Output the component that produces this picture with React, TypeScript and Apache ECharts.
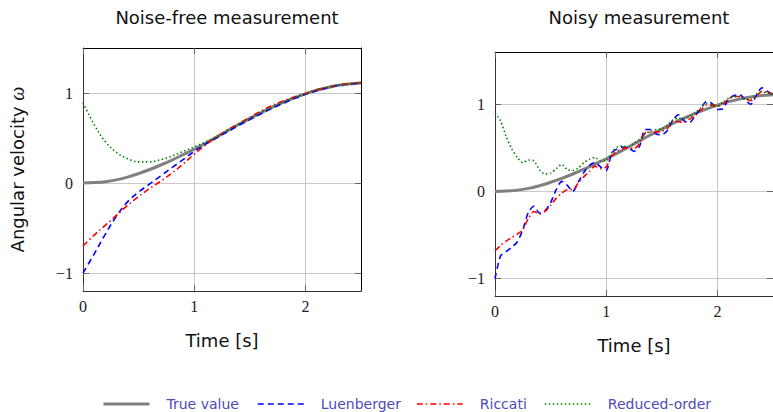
import React, { useEffect, useRef } from "react";
import * as echarts from "echarts";

// ---- data ----
const T_CLEAN = [0, 0.1, 0.2, 0.3, 0.4, 0.5, 0.6, 0.7, 0.8, 0.9, 1.0, 1.1, 1.2, 1.3, 1.4, 1.5, 1.6, 1.7, 1.8, 1.9, 2.0, 2.1, 2.2, 2.3, 2.4, 2.5];
const TRUE_VALUE = [0, 0.005, 0.015, 0.035, 0.065, 0.105, 0.15, 0.2, 0.255, 0.315, 0.375, 0.44, 0.51, 0.58, 0.65, 0.715, 0.78, 0.84, 0.895, 0.945, 0.99, 1.03, 1.06, 1.085, 1.1, 1.11];
const LUEN_CLEAN = [-1, -0.79, -0.57, -0.37, -0.21, -0.1, -0.01, 0.08, 0.17, 0.26, 0.35, 0.43, 0.5, 0.57, 0.64, 0.705, 0.77, 0.83, 0.885, 0.94, 0.985, 1.025, 1.06, 1.085, 1.1, 1.11];
const RICC_CLEAN = [-0.7, -0.58, -0.47, -0.36, -0.25, -0.15, -0.06, 0.02, 0.11, 0.21, 0.32, 0.42, 0.51, 0.59, 0.66, 0.73, 0.8, 0.86, 0.91, 0.955, 0.995, 1.035, 1.065, 1.09, 1.105, 1.115];
const RED_CLEAN = [0.89, 0.65, 0.46, 0.34, 0.27, 0.235, 0.235, 0.26, 0.3, 0.35, 0.4, 0.455, 0.515, 0.585, 0.655, 0.72, 0.785, 0.845, 0.9, 0.95, 0.995, 1.035, 1.065, 1.09, 1.105, 1.115];

const T_NOISY = [0, 0.05, 0.1, 0.15, 0.2, 0.25, 0.3, 0.35, 0.4, 0.45, 0.5, 0.55, 0.6, 0.65, 0.7, 0.75, 0.8, 0.85, 0.9, 0.95, 1.0, 1.05, 1.1, 1.15, 1.2, 1.25, 1.3, 1.35, 1.4, 1.45, 1.5, 1.55, 1.6, 1.65, 1.7, 1.75, 1.8, 1.85, 1.9, 1.95, 2.0, 2.05, 2.1, 2.15, 2.2, 2.25, 2.3, 2.35, 2.4, 2.45, 2.5];
const LUEN_NOISY = [-1.0, -0.74, -0.69, -0.64, -0.58, -0.44, -0.24, -0.17, -0.25, -0.22, -0.13, 0.02, 0.115, 0.07, 0.0, 0.11, 0.22, 0.3, 0.33, 0.28, 0.24, 0.44, 0.49, 0.51, 0.5, 0.46, 0.52, 0.71, 0.71, 0.66, 0.65, 0.7, 0.82, 0.88, 0.81, 0.79, 0.87, 0.95, 1.03, 1.01, 0.94, 0.95, 1.06, 1.1, 1.11, 1.05, 1.0, 1.1, 1.19, 1.15, 1.1];
const RICC_NOISY = [-0.68, -0.62, -0.57, -0.53, -0.49, -0.44, -0.31, -0.23, -0.26, -0.23, -0.16, -0.08, -0.02, 0.02, 0.02, 0.1, 0.17, 0.23, 0.29, 0.26, 0.28, 0.41, 0.46, 0.49, 0.5, 0.49, 0.55, 0.67, 0.68, 0.68, 0.69, 0.72, 0.81, 0.8, 0.79, 0.83, 0.87, 0.93, 0.99, 0.99, 0.98, 1.0, 1.06, 1.09, 1.09, 1.07, 1.04, 1.09, 1.15, 1.14, 1.12];
const RED_NOISY = [0.9, 0.81, 0.63, 0.49, 0.39, 0.33, 0.36, 0.35, 0.25, 0.2, 0.21, 0.26, 0.31, 0.25, 0.24, 0.27, 0.33, 0.37, 0.39, 0.35, 0.35, 0.45, 0.51, 0.52, 0.51, 0.55, 0.6, 0.66, 0.69, 0.71, 0.72, 0.76, 0.82, 0.84, 0.83, 0.86, 0.9, 0.96, 1.01, 1.0, 0.98, 1.02, 1.07, 1.09, 1.09, 1.06, 1.06, 1.12, 1.14, 1.13, 1.12];

const X_TICKS = [0, 1, 2];
const Y_TICKS = [-1, 0, 1];
const NAMES = ["True value", "Luenberger", "Riccati", "Reduced-order"];

const SANS = "DejaVu Sans";
const SERIF = "Liberation Serif";

const pairs = (t: number[], v: number[]) => t.map((x, i) => [x, v[i]]);
const fmt = (v: number) => (v < 0 ? "\u2212" + Math.abs(v) : String(v));

export default function App() {
  const ref = useRef<HTMLDivElement>(null);
  useEffect(() => {
    document.body.style.margin = "0";
    if (!ref.current) return;
    const chart = echarts.init(ref.current, undefined, { renderer: "svg" });

    const grids = [
      { left: 83, top: 48, width: 278, height: 243 },
      { left: 495, top: 52, width: 279, height: 244 },
    ];
    const yMax = [1.5, 1.6];

    const xAxes: any[] = [];
    const yAxes: any[] = [];
    [0, 1].forEach((g) => {
      xAxes.push({
        type: "value", gridIndex: g, min: 0, max: 2.5, position: "bottom",
        axisLine: { show: true, onZero: false, lineStyle: { color: "#333", width: 1 } },
        axisTick: { show: true, inside: true, length: 6, customValues: X_TICKS, lineStyle: { color: "#666" } },
        axisLabel: { customValues: X_TICKS, formatter: fmt, fontFamily: SERIF, fontSize: 16, color: "#222", margin: 7 },
        splitLine: { show: true, lineStyle: { color: "#c8c8c8", width: 1 } },
        name: "Time [s]", nameLocation: "middle", nameGap: 40,
        nameTextStyle: { fontFamily: SANS, fontSize: 18, color: "#111" },
      });
      xAxes.push({
        type: "value", gridIndex: g, min: 0, max: 2.5, position: "top",
        axisLine: { show: true, onZero: false, lineStyle: { color: "#000", width: 1 } },
        axisTick: { show: true, inside: true, length: 6, customValues: X_TICKS, lineStyle: { color: "#666" } },
        axisLabel: { show: false }, splitLine: { show: false },
      });
      yAxes.push({
        type: "value", gridIndex: g, min: -1.2, max: yMax[g], position: "left",
        axisLine: { show: true, onZero: false, lineStyle: { color: "#333", width: 1 } },
        axisTick: { show: true, inside: true, length: 6, customValues: Y_TICKS, lineStyle: { color: "#666" } },
        axisLabel: { customValues: Y_TICKS, formatter: fmt, fontFamily: SERIF, fontSize: 16, color: "#222", margin: 10 },
        splitLine: { show: true, lineStyle: { color: "#c8c8c8", width: 1 } },
        ...(g === 0
          ? {
              name: "Angular velocity {i|ω}", nameLocation: "middle", nameGap: 56,
              nameTextStyle: { fontFamily: SANS, fontSize: 18, color: "#111", rich: { i: { fontFamily: SERIF, fontStyle: "italic", fontSize: 20, color: "#111" } } },
            }
          : {}),
      });
      yAxes.push({
        type: "value", gridIndex: g, min: -1.2, max: yMax[g], position: "right",
        axisLine: { show: true, onZero: false, lineStyle: { color: "#000", width: 1 } },
        axisTick: { show: true, inside: true, length: 6, customValues: Y_TICKS, lineStyle: { color: "#666" } },
        axisLabel: { show: false }, splitLine: { show: false },
      });
    });

    const styles = [
      { color: "#808080", width: 3, type: "solid" },
      { color: "#0000ff", width: 1.6, type: [6, 4] },
      { color: "#ff0000", width: 1.6, type: [6, 3, 1.5, 3] },
      { color: "#008000", width: 1.6, type: [1.5, 2.5] },
    ];
    const clean = [TRUE_VALUE, LUEN_CLEAN, RICC_CLEAN, RED_CLEAN];
    const noisy = [TRUE_VALUE, LUEN_NOISY, RICC_NOISY, RED_NOISY];
    const series: any[] = [];
    clean.forEach((v, i) => {
      series.push({
        type: "line", name: NAMES[i], xAxisIndex: 0, yAxisIndex: 0,
        data: pairs(T_CLEAN, v), showSymbol: false, symbol: "none",
        smooth: 0.35,
        lineStyle: styles[i], itemStyle: { color: styles[i].color }, z: 2 + i,
      });
    });
    noisy.forEach((v, i) => {
      series.push({
        type: "line", name: NAMES[i], xAxisIndex: 2, yAxisIndex: 2,
        data: pairs(i === 0 ? T_CLEAN : T_NOISY, v), showSymbol: false, symbol: "none",
        smooth: i === 0 ? 0.35 : 0.25,
        lineStyle: styles[i], itemStyle: { color: styles[i].color }, z: 2 + i,
      });
    });

    const legendLeft = [102, 257, 416, 544];
    const legends = NAMES.map((n, i) => ({
      data: [n], left: legendLeft[i], top: 397, itemWidth: 46, itemHeight: 14,
      selectedMode: false, padding: 0,
      itemStyle: { color: "transparent", borderWidth: 0, opacity: 0 },
      lineStyle: { width: "inherit" },
      textStyle: { color: "#4d4db8", fontFamily: SANS, fontSize: 14, padding: [0, 0, 0, 12] },
    }));

    chart.setOption({
      animation: false,
      backgroundColor: "#fff",
      title: [
        { text: "Noise-free measurement", left: 222, textAlign: "center", top: 3, textStyle: { fontFamily: SANS, fontSize: 18, fontWeight: "normal", color: "#111" } },
        { text: "Noisy measurement", left: 634, textAlign: "center", top: 3, textStyle: { fontFamily: SANS, fontSize: 18, fontWeight: "normal", color: "#111" } },
      ],
      legend: legends,
      grid: grids,
      xAxis: xAxes,
      yAxis: yAxes,
      series,
    });
    return () => chart.dispose();
  }, []);
  return <div ref={ref} style={{ width: 773, height: 412 }} />;
}
